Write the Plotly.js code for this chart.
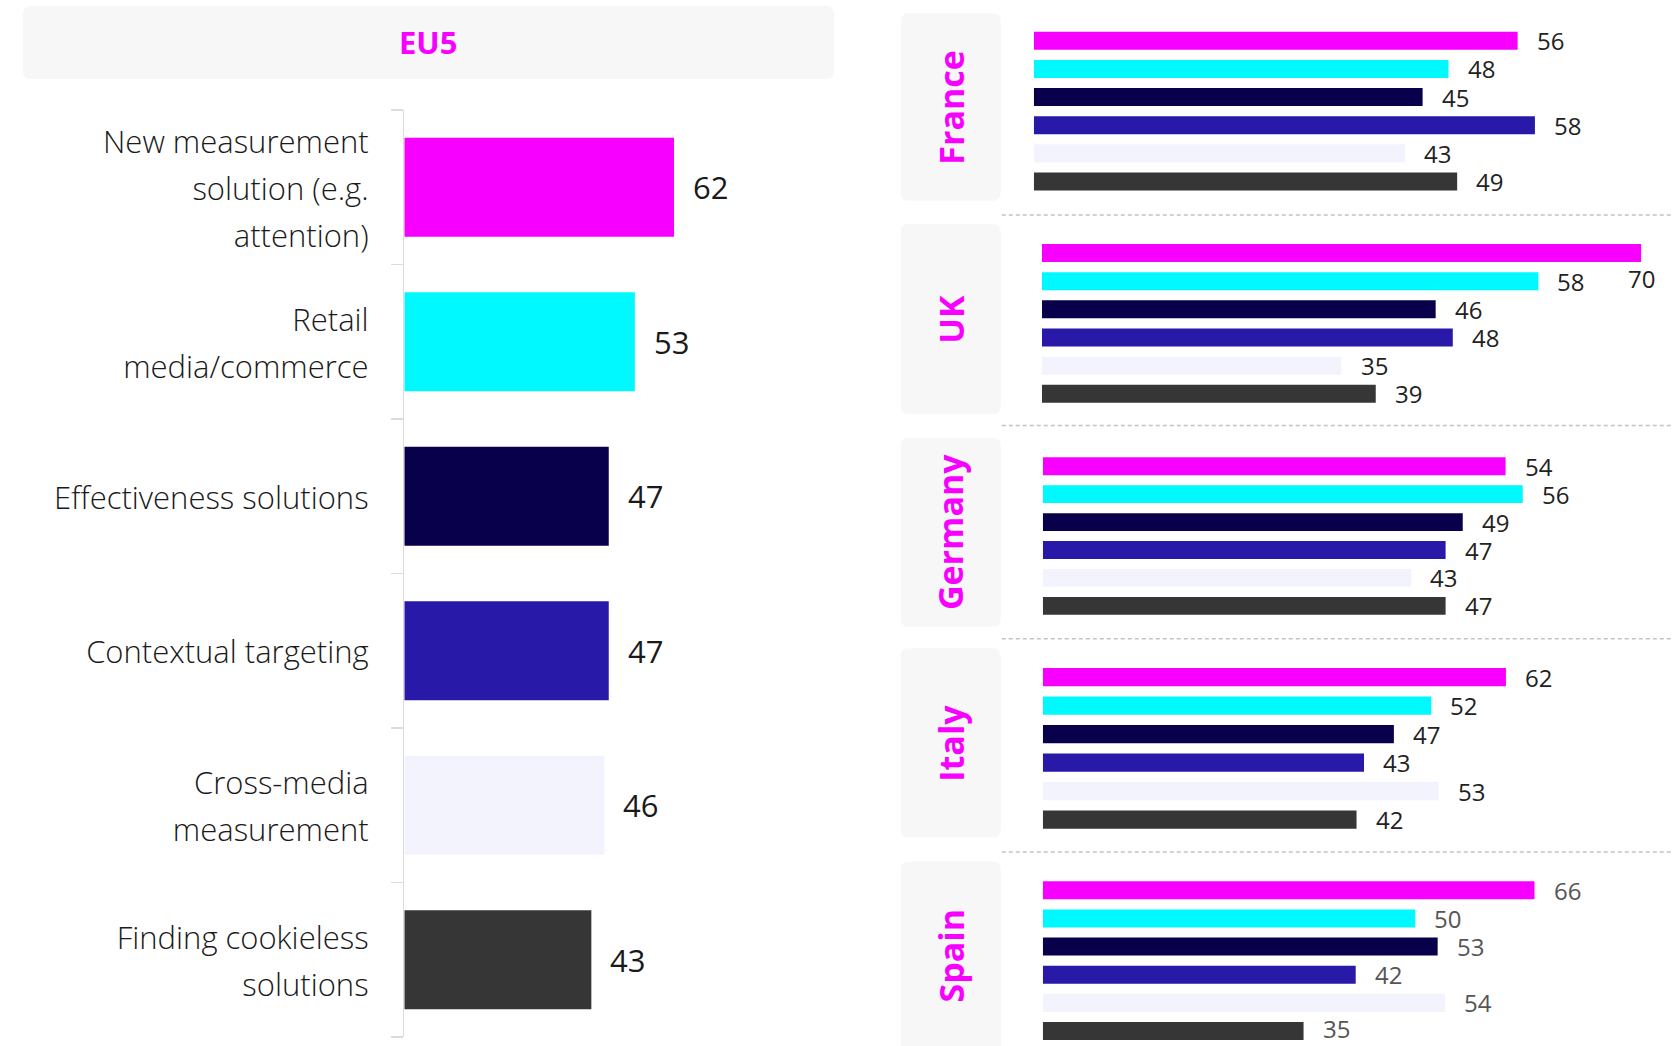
<!DOCTYPE html>
<html><head><meta charset="utf-8">
<script src="https://cdn.plot.ly/plotly-3.0.1.min.js"></script>
<style>html,body{margin:0;padding:0;background:#fff}#chart{width:1676px;height:1046px}</style>
</head><body><div id="chart"></div>
<script>
// ---- data ----
const categories = ["New measurement solution (e.g. attention)", "Retail media/commerce", "Effectiveness solutions", "Contextual targeting", "Cross-media measurement", "Finding cookieless solutions"];
const categoryLabels = ["New measurement<br>solution (e.g.<br>attention)", "Retail<br>media/commerce", "Effectiveness solutions", "Contextual targeting", "Cross-media<br>measurement", "Finding cookieless<br>solutions"];
const panelTitle = "EU5";
const eu5Values = [62, 53, 47, 47, 46, 43];
const countries = ["France", "UK", "Germany", "Italy", "Spain"];
const franceValues = [56, 48, 45, 58, 43, 49];
const ukValues = [70, 58, 46, 48, 35, 39];
const germanyValues = [54, 56, 49, 47, 43, 47];
const italyValues = [62, 52, 47, 43, 53, 42];
const spainValues = [66, 50, 53, 42, 54, 35];
const barColors = ["#F800FF", "#00F8FF", "#09004B", "#2819A8", "#F3F3FD", "#363636"];

// ---- layout geometry (pixels) ----
const W = 1676, H = 1046;
const FONT = "Open Sans, Noto Sans, sans-serif";
const MAGENTA = "#F800FF";
const X = p => p / W, Y = p => 1 - p / H;
const catRange = [categories.length - 0.5, -0.5];

const left = {x0: 404.3, x1: 834, ppu: 4.35, yTop: 110, yBot: 1037};
const rightEnd = 1672;
const panels = [
  {vals: franceValues,  x0: 1033.8, ppu: 8.64, yTop: 26.7,  yBot: 195.6,  box: [13.3, 200.7], col: "#222"},
  {vals: ukValues,      x0: 1041.9, ppu: 8.56, yTop: 238.9, yBot: 407.9,  box: [224, 414],    col: "#222"},
  {vals: germanyValues, x0: 1042.8, ppu: 8.57, yTop: 452.3, yBot: 619.8,  box: [438, 626.8],  col: "#222"},
  {vals: italyValues,   x0: 1042.8, ppu: 7.47, yTop: 662.8, yBot: 833.8,  box: [648.3, 837.6],col: "#222"},
  {vals: spainValues,   x0: 1042.8, ppu: 7.45, yTop: 876.2, yBot: 1045.1, box: [861.5, 1056], col: "#555"}
];
const separators = [215, 425.5, 638.8, 852];

function rr(x0, y0, x1, y1, r) {
  const f = v => v.toFixed(5);
  const a = p => f(X(p)), b = p => f(Y(p));
  return `M${a(x0 + r)},${b(y0)} L${a(x1 - r)},${b(y0)} Q${a(x1)},${b(y0)} ${a(x1)},${b(y0 + r)} ` +
         `L${a(x1)},${b(y1 - r)} Q${a(x1)},${b(y1)} ${a(x1 - r)},${b(y1)} L${a(x0 + r)},${b(y1)} ` +
         `Q${a(x0)},${b(y1)} ${a(x0)},${b(y1 - r)} L${a(x0)},${b(y0 + r)} Q${a(x0)},${b(y0)} ${a(x0 + r)},${b(y0)} Z`;
}

const traces = [];
const annotations = [];
const shapes = [];
const layout = {
  width: W, height: H,
  margin: {l: 0, r: 0, t: 0, b: 0, pad: 0},
  paper_bgcolor: "#fff", plot_bgcolor: "rgba(0,0,0,0)",
  showlegend: false,
  font: {family: FONT, color: "#1a1a1a"},
  hovermode: false
};

// left panel
traces.push({
  type: "bar", orientation: "h", x: eu5Values, y: categories,
  xaxis: "x", yaxis: "y", width: 0.64,
  marker: {color: barColors, line: {width: 0}}, hoverinfo: "none"
});
layout.xaxis = {domain: [X(left.x0), X(left.x1)], range: [0, (left.x1 - left.x0) / left.ppu],
  autorange: false, visible: false, fixedrange: true};
layout.yaxis = {domain: [Y(left.yBot), Y(left.yTop)], type: "category", range: catRange, autorange: false,
  categoryorder: "array", categoryarray: categories,
  tickmode: "array", tickvals: categories,
  ticktext: categoryLabels.map(l => l.split("<br>").map(s => `<span style="font-size:31px">${s}</span>`).join("<br>")),
  tickfont: {family: FONT, size: 36, color: "#1a1a1a", weight: 300},
  ticks: "outside", tickson: "boundaries", ticklen: 12, tickwidth: 1.5, tickcolor: "#dcdcdc",
  showline: true, linecolor: "#dcdcdc", linewidth: 1.5, showgrid: false, zeroline: false,
  ticklabelstandoff: 27, anchor: "x", fixedrange: true};
eu5Values.forEach((v, i) => annotations.push({
  xref: "x", yref: "y", x: v, y: categories[i], text: String(v), showarrow: false,
  xanchor: "left", yanchor: "middle", xshift: 17,
  font: {family: FONT, size: 31, color: "#1a1a1a"}
}));
shapes.push({type: "path", xref: "paper", yref: "paper", path: rr(23, 6, 834, 79, 8),
  fillcolor: "#F7F7F7", line: {width: 0}, layer: "below"});
annotations.push({xref: "paper", yref: "paper", x: X(428.5), y: Y(42), text: "<b>" + panelTitle + "</b>",
  showarrow: false, xanchor: "center", yanchor: "middle",
  font: {family: FONT, size: 31, color: MAGENTA}});

// right panels
panels.forEach((p, k) => {
  const n = k + 2;
  const xa = "x" + n, ya = "y" + n;
  traces.push({
    type: "bar", orientation: "h", x: p.vals, y: categories,
    xaxis: xa, yaxis: ya, width: 0.64,
    marker: {color: barColors, line: {width: 0}}, hoverinfo: "none"
  });
  layout["xaxis" + n] = {domain: [X(p.x0), X(rightEnd)], range: [0, (rightEnd - p.x0) / p.ppu],
    autorange: false, visible: false, fixedrange: true, anchor: ya};
  layout["yaxis" + n] = {domain: [Y(p.yBot), Y(p.yTop)], type: "category", range: catRange, autorange: false,
    categoryorder: "array", categoryarray: categories,
    visible: false, fixedrange: true, anchor: xa};
  const slot = (p.yBot - p.yTop) / categories.length;
  p.vals.forEach((v, i) => {
    const endPx = p.x0 + v * p.ppu;
    const labelW = String(v).length * 0.6 * 24;
    const overflow = endPx + 17 + labelW > W - 2;
    const centerPx = p.yTop + slot * (i + 0.5);
    const bottomClamp = Math.max(0, centerPx + 17 - H);
    annotations.push({
      xref: xa, yref: ya, x: v, y: categories[i], text: String(v), showarrow: false,
      xanchor: overflow ? "center" : "left", yanchor: "middle",
      xshift: overflow ? 0 : 17, yshift: overflow ? -26 : bottomClamp,
      font: {family: FONT, size: 24, color: p.col}
    });
  });
  shapes.push({type: "path", xref: "paper", yref: "paper", path: rr(900.7, p.box[0], 1000.7, p.box[1], 8),
    fillcolor: "#F7F7F7", line: {width: 0}, layer: "below"});
  annotations.push({xref: "paper", yref: "paper", x: X(950.7), y: Y((p.box[0] + Math.min(p.box[1], 1046)) / 2 + (k === 4 ? 2 : 0)),
    text: "<b>" + countries[k] + "</b>", textangle: -90, showarrow: false,
    xanchor: "center", yanchor: "middle",
    font: {family: FONT, size: 34, color: MAGENTA}});
});

separators.forEach(s => shapes.push({type: "line", xref: "paper", yref: "paper",
  x0: X(1001.8), x1: X(1672), y0: Y(s), y1: Y(s),
  line: {color: "#C4C4C4", width: 1.5, dash: "4px,3px"}}));

layout.annotations = annotations;
layout.shapes = shapes;

Plotly.newPlot("chart", traces, layout, {staticPlot: true, displayModeBar: false});
</script>
</body></html>
